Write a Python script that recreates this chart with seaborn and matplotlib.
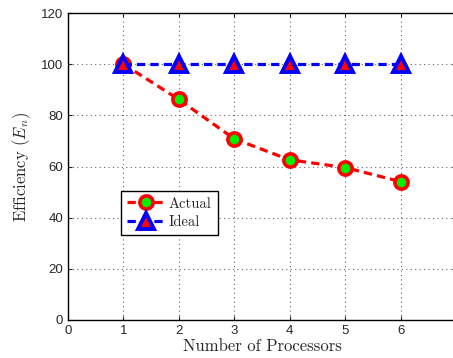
import numpy as np
import pandas as pd
import matplotlib
matplotlib.use("Agg")
import matplotlib.pyplot as plt
import seaborn as sns

processors = [1, 2, 3, 4, 5, 6]
actual = [100, 86.2, 70.8, 62.6, 59.6, 54.1]
ideal = [100, 100, 100, 100, 100, 100]

sns.set_style("ticks")
plt.rcParams['mathtext.fontset'] = 'cm'

df = pd.DataFrame({
    "Processors": processors * 2,
    "Efficiency": actual + ideal,
    "Series": ["Actual"] * 6 + ["Ideal"] * 6,
})

fig = plt.figure(figsize=(4.53, 3.58), dpi=100)
ax = fig.add_axes([68/453, 1 - 320/358, 388/453, 307/358])

ax.grid(True, linestyle=(0, (1, 3)), color='#666666', linewidth=0.8)
ax.set_axisbelow(True)

dash = (0, (2.6, 1.6))
sns.lineplot(data=df[df.Series == "Actual"], x="Processors", y="Efficiency",
             ax=ax, color="red", linestyle=dash, linewidth=2.3,
             marker="o", markersize=9.5, markerfacecolor="#00ee00",
             markeredgecolor="red", markeredgewidth=2.6, label="Actual")
sns.lineplot(data=df[df.Series == "Ideal"], x="Processors", y="Efficiency",
             ax=ax, color="blue", linestyle=dash, linewidth=2.3,
             marker="^", markersize=11, markerfacecolor="red",
             markeredgecolor="blue", markeredgewidth=2.8, label="Ideal")

ax.set_xlim(0, 7)
ax.set_ylim(0, 120)
ax.set_xticks(range(0, 7))
ax.set_yticks(range(0, 121, 20))
ax.tick_params(direction='in', top=True, right=True, length=3, labelsize=9.5)
for lab in ax.get_xticklabels() + ax.get_yticklabels():
    lab.set_fontfamily('Liberation Sans')
for s in ax.spines.values():
    s.set_linewidth(1.0)
    s.set_color('black')

ax.set_xlabel("Number of Processors", fontfamily='cmr10', fontsize=12, labelpad=1)
ax.set_ylabel(r"Efficiency $(E_n)$", fontfamily='cmr10', fontsize=12, labelpad=6)

leg = ax.legend(loc='lower left', bbox_to_anchor=(0.125, 0.262), frameon=True,
                fancybox=False, edgecolor='black', framealpha=1,
                prop={'family': 'cmr10', 'size': 10.5}, handlelength=2.6,
                borderpad=0.4, labelspacing=0.35, handletextpad=0.3,
                borderaxespad=0.3)
leg.get_frame().set_linewidth(1.0)

fig.savefig("out.png", dpi=100)
